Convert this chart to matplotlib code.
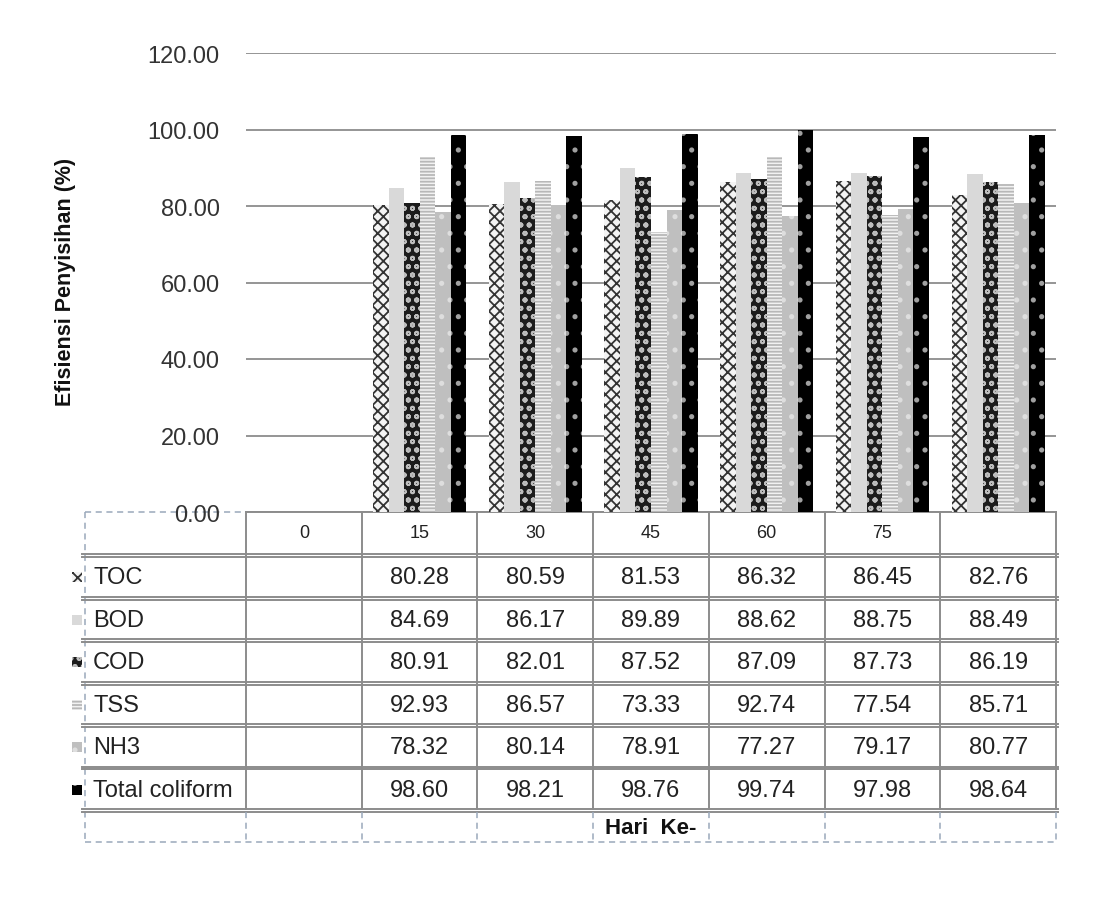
import numpy as np
import matplotlib
matplotlib.use('Agg')
import matplotlib.pyplot as plt
from matplotlib.patches import Rectangle

plt.rcParams['font.family'] = ['Liberation Sans', 'DejaVu Sans']
plt.rcParams['hatch.linewidth'] = 1.3

days = ['0', '15', '30', '45', '60', '75', '']
series = ['TOC', 'BOD', 'COD', 'TSS', 'NH3', 'Total coliform']
toc = [80.28, 80.59, 81.53, 86.32, 86.45, 82.76]
bod = [84.69, 86.17, 89.89, 88.62, 88.75, 88.49]
cod = [80.91, 82.01, 87.52, 87.09, 87.73, 86.19]
tss = [92.93, 86.57, 73.33, 92.74, 77.54, 85.71]
nh3 = [78.32, 80.14, 78.91, 77.27, 79.17, 80.77]
coliform = [98.60, 98.21, 98.76, 99.74, 97.98, 98.64]
values = [toc, bod, cod, tss, nh3, coliform]

# fill style for each series: (face, hatch colour, hatch)
styles = [
    ('#f4f4f4', '#333333', 'xxx'),
    ('#d9d9d9', '#d9d9d9', None),
    ('#1c1c1c', '#bdbdbd', 'oo'),
    ('#f2f2f2', '#b8b8b8', '-----'),
    ('#bfbfbf', '#dedede', '.'),
    ('black', '#a0a0a0', '.'),
]

W, H = 1107, 912
fig = plt.figure(figsize=(W / 100, H / 100), dpi=100)

# overlay in pixel coords for the data table
tab = fig.add_axes([0, 0, 1, 1])
tab.set_xlim(0, W)
tab.set_ylim(H, 0)
tab.axis('off')

left, right, top, bottom = 246, 1056, 54, 513
ax = fig.add_axes([left / W, 1 - bottom / H, (right - left) / W, (bottom - top) / H])
ax.set_facecolor('none')

x = np.arange(len(days))
data_x = x[1:]
bw = 0.134
for k, (name, vals) in enumerate(zip(series, values)):
    face, hcol, hatch = styles[k]
    ax.bar(data_x + (k - 2.5) * bw, vals, bw, color=face, edgecolor=hcol,
           hatch=hatch, linewidth=0, zorder=3)

ax.set_xlim(-0.5, len(days) - 0.5)
ax.set_ylim(0, 120)
ax.set_yticks(np.arange(0, 121, 20))
ax.set_yticklabels(['%.2f' % v for v in np.arange(0, 121, 20)], fontsize=17, color='#333333')
ax.set_xticks([])
ax.tick_params(axis='y', length=0, pad=19)
ax.grid(axis='y', color='#8c8c8c', linewidth=1.3, zorder=0)
for s in ax.spines.values():
    s.set_visible(False)

# table geometry
solid = dict(color='#8c8c8c', linewidth=1.4)
dash = dict(color='#9aa8bb', linewidth=1.1, linestyle=(0, (4, 3)))
cw = (right - left) / len(days)
cols = [left + i * cw for i in range(len(days) + 1)]
tleft = 85
rows = [555 + i * 42.5 for i in range(7)]
tbot = 843

tab.plot([tleft, left], [bottom, bottom], **dash)
tab.plot([left, right], [bottom, bottom], **solid)
tab.plot([tleft, tleft], [bottom, tbot], **dash)
for r in rows:
    tab.plot([tleft - 3, right + 2], [r, r], **solid)
    tab.plot([tleft - 3, right + 2], [r + 3, r + 3], **solid)
for c in cols:
    tab.plot([c, c], [bottom, rows[-1]], **solid)
    tab.plot([c, c], [rows[-1] + 3, tbot], **dash)
tab.plot([tleft, right], [tbot, tbot], **dash)

for i, d in enumerate(days):
    tab.text((cols[i] + cols[i + 1]) / 2, (bottom + rows[0]) / 2, d,
             ha='center', va='center', fontsize=13, color='#222222')

for k, (name, vals) in enumerate(zip(series, values)):
    yc = (rows[k] + rows[k + 1]) / 2 + 2
    face, hcol, hatch = styles[k]
    tab.add_patch(Rectangle((72, yc - 5), 10, 10, facecolor=face, edgecolor=hcol,
                            hatch=hatch, linewidth=0))
    tab.text(93, yc, name, ha='left', va='center', fontsize=17, color='#222222')
    for j, v in enumerate(vals):
        tab.text((cols[j + 1] + cols[j + 2]) / 2, yc, '%.2f' % v,
                 ha='center', va='center', fontsize=17, color='#222222')

tab.text((left + right) / 2, (rows[-1] + tbot) / 2 + 2, 'Hari  Ke-', ha='center',
         va='center', fontsize=16, fontweight='bold', color='#111111')
tab.text(66, 282, 'Efisiensi Penyisihan (%)', rotation=90, ha='center',
         va='center', fontsize=15.5, fontweight='bold', color='#111111')

fig.savefig('out.png', dpi=100)
